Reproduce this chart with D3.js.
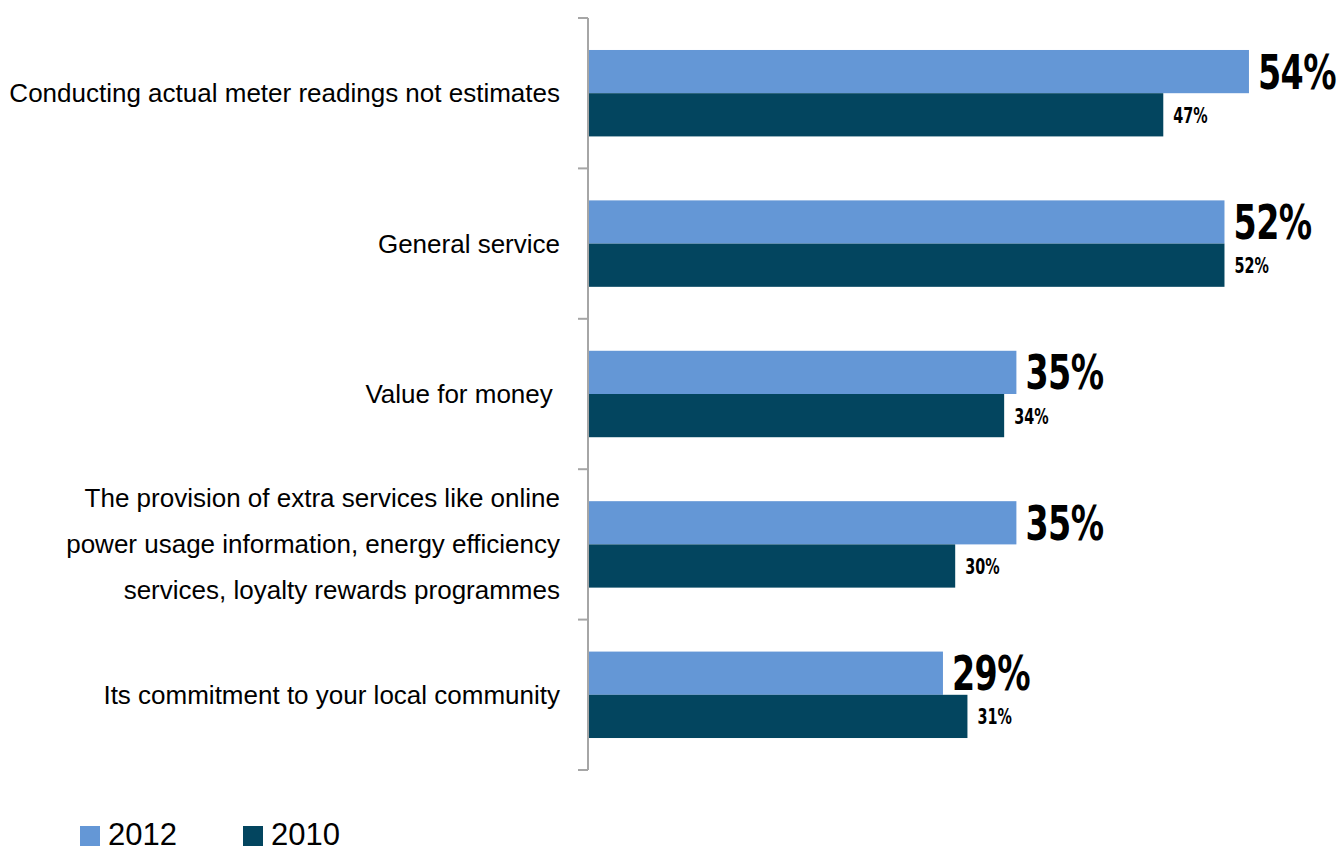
<!DOCTYPE html>
<html><head><meta charset="utf-8">
<script src="https://cdn.jsdelivr.net/npm/d3@7"></script>
<style>body{margin:0;background:#fff}</style>
</head><body>
<svg id="c" width="1339" height="854"></svg>
<script>
const categories = [
  ["Conducting actual meter readings not estimates"],
  ["General service"],
  ["Value for money "],
  ["The provision of extra services like online","power usage information, energy efficiency","services, loyalty rewards programmes"],
  ["Its commitment to your local community"]
];
const values2012 = [54, 52, 35, 35, 29];
const values2010 = [47, 52, 34, 30, 31];
const seriesNames = ["2012", "2010"];
const colors = ["#6497d6", "#03455f"];

const svg = d3.select("#c");
const x = d3.scaleLinear().domain([0, 60]).range([588, 588 + 12.24*60]);
const y = d3.scaleBand().domain(d3.range(categories.length)).range([18, 770]).paddingInner(0).paddingOuter(0);
const inner = d3.scaleBand().domain([0,1]).range([0, y.bandwidth()]).paddingOuter(0.74).paddingInner(0);

const ax = svg.append("g").attr("stroke", "#a6a6a6").attr("stroke-width", 2);
ax.append("line").attr("x1", 588).attr("x2", 588).attr("y1", 18).attr("y2", 770);
d3.range(categories.length + 1).forEach(i => {
  const yy = i < categories.length ? y(i) : 770;
  ax.append("line").attr("x1", 578).attr("x2", 588).attr("y1", yy).attr("y2", yy);
});

const series = [values2012, values2010];
series.forEach((vals, s) => {
  svg.append("g").selectAll("rect").data(vals).join("rect")
    .attr("x", x(0) + 1)
    .attr("y", (d, i) => y(i) + inner(s))
    .attr("width", d => x(d) - x(0) - 1)
    .attr("height", inner.bandwidth())
    .attr("fill", colors[s]);
});

const lab = svg.append("g");
values2012.forEach((v, i) => {
  const cy = y(i) + inner(0) + inner.bandwidth()/2;
  lab.append("text")
    .attr("transform", `translate(${x(v) + 9},${cy + 17}) scale(1,1.3)`)
    .attr("font-family", "'Liberation Sans Narrow', 'DejaVu Sans Condensed', sans-serif")
    .attr("font-weight", "bold").attr("font-size", 37).attr("letter-spacing", -0.5)
    .attr("fill", "#000").text(v + "%");
});
values2010.forEach((v, i) => {
  const cy = y(i) + inner(1) + inner.bandwidth()/2;
  lab.append("text")
    .attr("transform", `translate(${x(v) + 10},${cy + 8}) scale(1,1.3)`)
    .attr("font-family", "'Liberation Sans Narrow', 'DejaVu Sans Condensed', sans-serif")
    .attr("font-weight", "bold").attr("font-size", 16).attr("letter-spacing", 0)
    .attr("fill", "#000").text(v + "%");
});

categories.forEach((lines, i) => {
  const cy = y(i) + y.bandwidth()/2;
  const lh = 46;
  const t = svg.append("text").attr("text-anchor", "end")
    .attr("font-family", "Arial, 'Liberation Sans', sans-serif").attr("font-size", 26).attr("fill", "#000")
    .style("white-space", "pre");
  lines.forEach((ln, j) => {
    t.append("tspan").attr("x", 560).attr("y", cy + 9 + (j - (lines.length - 1)/2) * lh).text(ln);
  });
});

const legX = [80, 243];
seriesNames.forEach((n, s) => {
  svg.append("rect").attr("x", legX[s]).attr("y", 826).attr("width", 20).attr("height", 20).attr("fill", colors[s]);
  svg.append("text").attr("x", legX[s] + 28).attr("y", 845)
    .attr("font-family", "Arial, 'Liberation Sans', sans-serif").attr("font-size", 31).attr("fill", "#000").text(n);
});
</script>
</body></html>
